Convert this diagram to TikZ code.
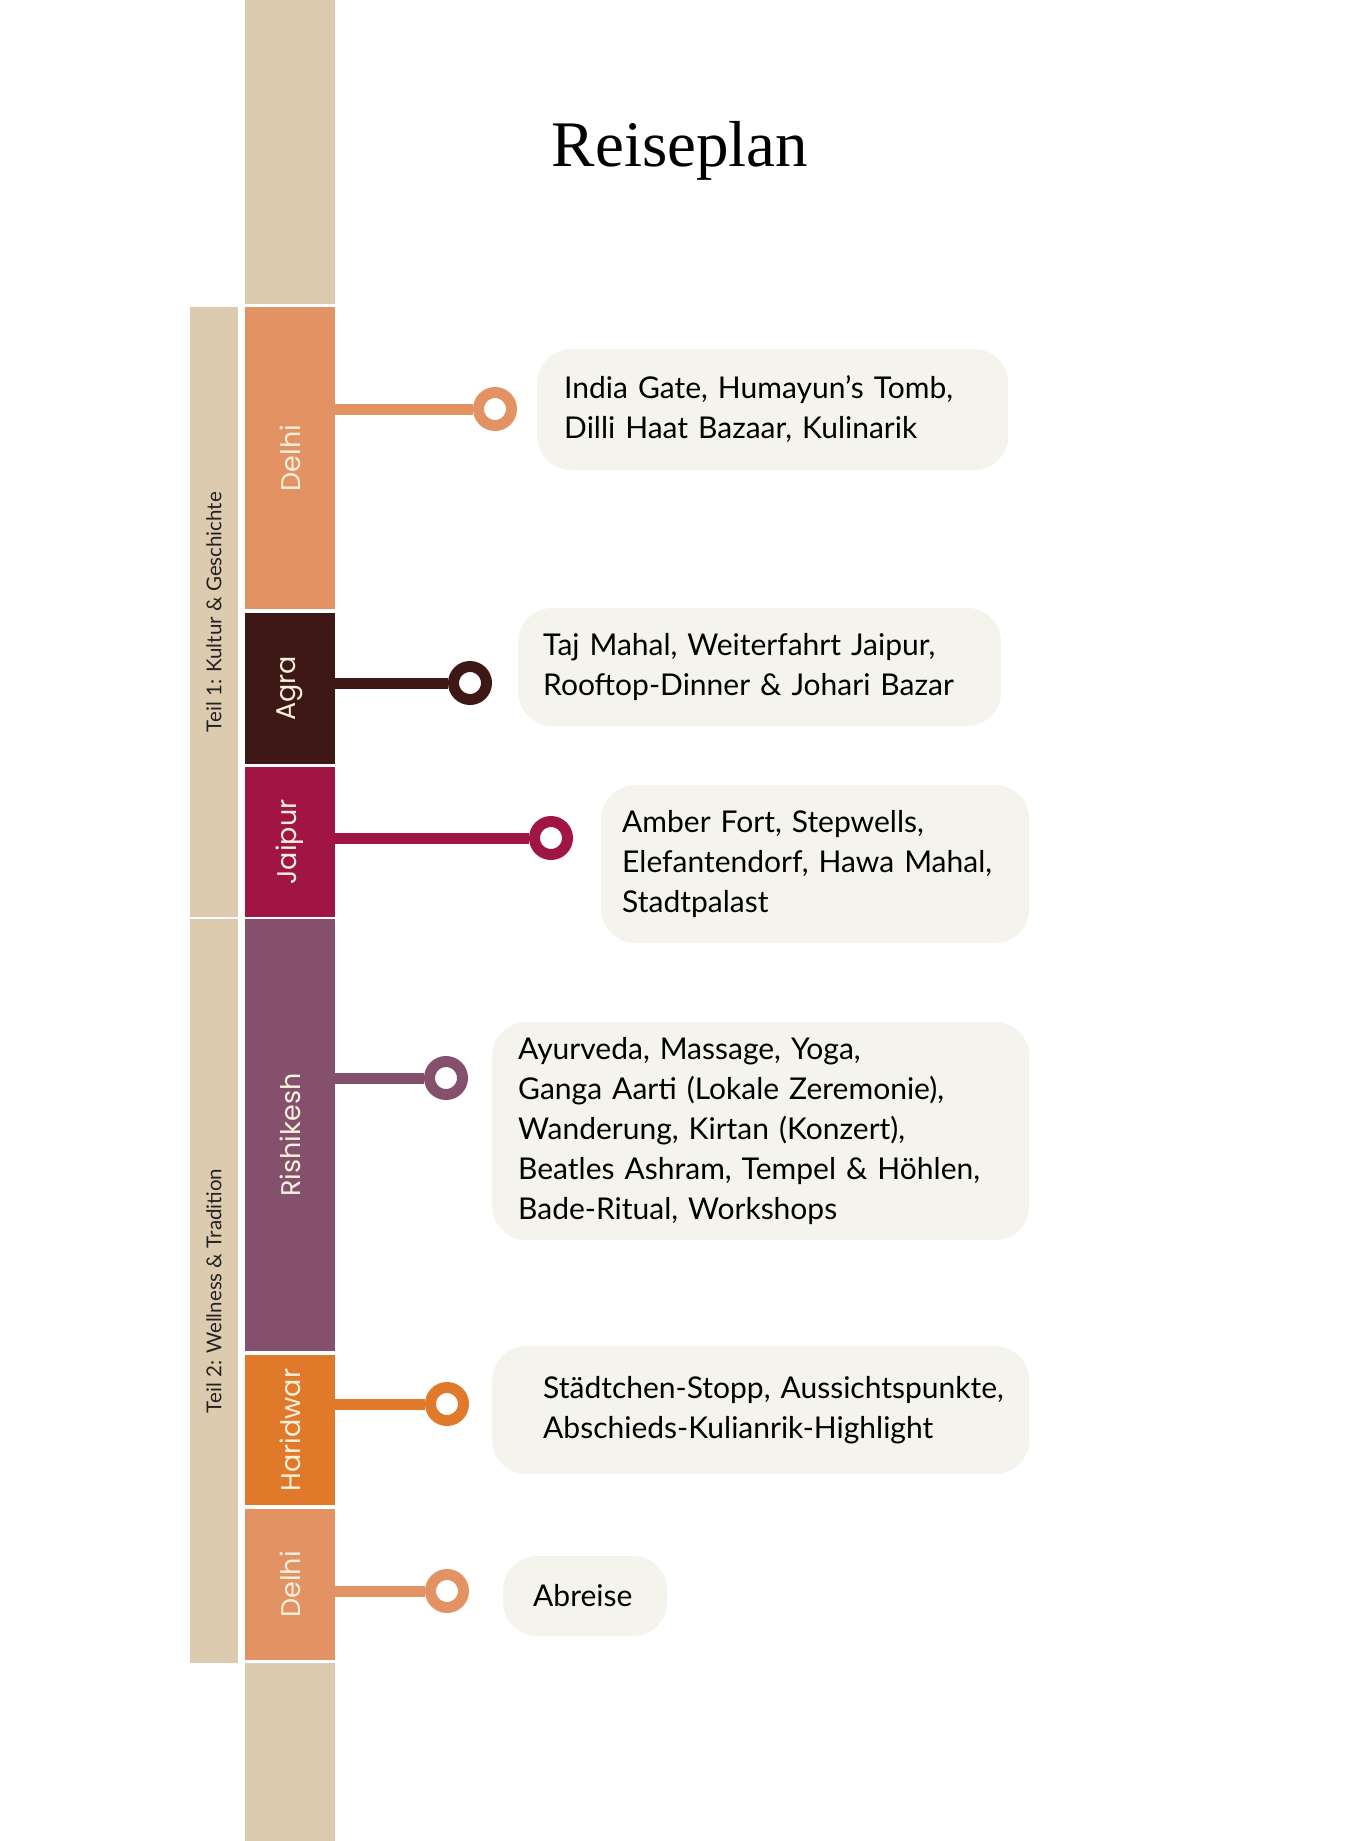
\documentclass[tikz,border=0pt]{standalone}
\usepackage{fontspec}
\setmainfont{Lato}
\newfontfamily\titlefont{Liberation Serif}
\newfontfamily\stopfont{Poppins}
\usetikzlibrary{positioning}
\definecolor{sandBar}{HTML}{DDCBB0}
\definecolor{delhiC}{HTML}{E39263}
\definecolor{agraC}{HTML}{3E1816}
\definecolor{jaipurC}{HTML}{A11545}
\definecolor{rishiC}{HTML}{85506C}
\definecolor{hariC}{HTML}{E07A2A}
\definecolor{boxFill}{HTML}{F5F4EC}
\definecolor{stopText}{HTML}{FAF0DC}
\definecolor{partText}{HTML}{222222}

\begin{document}
\begin{tikzpicture}[
  x=1pt, y=-1pt,
  stopbar/.style={rectangle, inner sep=0pt, minimum width=90pt, text=stopText,
                  font=\stopfont\fontsize{27}{27}\selectfont},
  partbar/.style={rectangle, fill=sandBar, inner sep=0pt, minimum width=48pt,
                  text=partText, font=\fontsize{20.5}{20.5}\selectfont},
  ring/.style={circle, draw=#1, fill=white, line width=11pt, minimum size=33pt, inner sep=0pt},
  link/.style={draw=#1, line width=11pt},
  infobox/.style={rectangle, rounded corners=34pt, fill=boxFill, anchor=west, align=left,
                  inner ysep=0pt, text=black, font=\fontsize{30}{40}\selectfont},
]
\useasboundingbox (0,0) rectangle (1360,1841);
\fill[white] (0,0) rectangle (1360,1841);

% ---- Title ----
\node[font=\titlefont\fontsize{65}{65}\selectfont, anchor=base] (title) at (680,166) {Reiseplan};

% ---- Main timeline bar ----
\node[stopbar, fill=sandBar, minimum height=304pt] (topsand) at (290,152) {};
\node[stopbar, fill=delhiC,  minimum height=302pt] (delhiA)  at (290,458) {\rotatebox{90}{Delhi}};
\node[stopbar, fill=agraC,   minimum height=151pt] (agra)    at (290,688.5) {\rotatebox{90}{Agra}};
\node[stopbar, fill=jaipurC, minimum height=150pt] (jaipur)  at (290,842) {\rotatebox{90}{Jaipur}};
\node[stopbar, fill=rishiC,  minimum height=432pt] (rishi)   at (290,1135) {\rotatebox{90}{Rishikesh}};
\node[stopbar, fill=hariC,   minimum height=150pt] (hari)    at (290,1430) {\rotatebox{90}{Haridwar}};
\node[stopbar, fill=delhiC,  minimum height=151pt] (delhiB)  at (290,1584.5) {\rotatebox{90}{Delhi}};
\node[stopbar, fill=sandBar, minimum height=178pt] (botsand) at (290,1752) {};

% ---- Trip parts ----
\node[partbar, minimum height=610pt] (part1) at (214,612) {\rotatebox{90}{Teil 1: Kultur \& Geschichte}};
\node[partbar, minimum height=744pt] (part2) at (214,1291) {\rotatebox{90}{Teil 2: Wellness \& Tradition}};

% ---- Stop markers ----
\node[ring=delhiC]  (r1) at (495,409)  {};
\node[ring=agraC]   (r2) at (470,683)  {};
\node[ring=jaipurC] (r3) at (551,838)  {};
\node[ring=rishiC]  (r4) at (446,1078) {};
\node[ring=hariC]   (r5) at (447,1404) {};
\node[ring=delhiC]  (r6) at (447,1591) {};

\draw[link=delhiC]  (delhiA.east |- r1) -- (r1);
\draw[link=agraC]   (agra.east |- r2)   -- (r2);
\draw[link=jaipurC] (jaipur.east |- r3) -- (r3);
\draw[link=rishiC]  (rishi.east |- r4)  -- (r4);
\draw[link=hariC]   (hari.east |- r5)   -- (r5);
\draw[link=delhiC]  (delhiB.east |- r6) -- (r6);

% ---- Activity boxes ----
\node[infobox, inner xsep=27pt, text width=417pt, minimum height=121pt] (act1) at (537,409.5)
  {India Gate, Humayun’s Tomb,\\Dilli Haat Bazaar, Kulinarik};
\node[infobox, inner xsep=25pt, text width=433pt, minimum height=118pt] (act2) at (518,667)
  {Taj Mahal, Weiterfahrt Jaipur,\\Rooftop-Dinner \& Johari Bazar};
\node[infobox, inner xsep=21pt, text width=386pt, minimum height=158pt] (act3) at (601,864)
  {Amber Fort, Stepwells,\\Elefantendorf, Hawa Mahal,\\Stadtpalast};
\node[infobox, inner xsep=26pt, text width=485pt, minimum height=218pt] (act4) at (492,1131)
  {Ayurveda, Massage, Yoga,\\Ganga Aarti (Lokale Zeremonie),\\Wanderung, Kirtan (Konzert),\\Beatles Ashram, Tempel \& Höhlen,\\Bade-Ritual, Workshops};
\node[infobox, inner xsep=20pt, text width=497pt, minimum height=128pt] (act5) at (492,1410)
  {\hspace*{31pt}Städtchen-Stopp, Aussichtspunkte,\\\hspace*{31pt}Abschieds-Kulianrik-Highlight};
\node[infobox, inner xsep=30pt, text width=104pt, minimum height=80pt] (act6) at (503,1596)
  {Abreise};

\end{tikzpicture}
\end{document}
